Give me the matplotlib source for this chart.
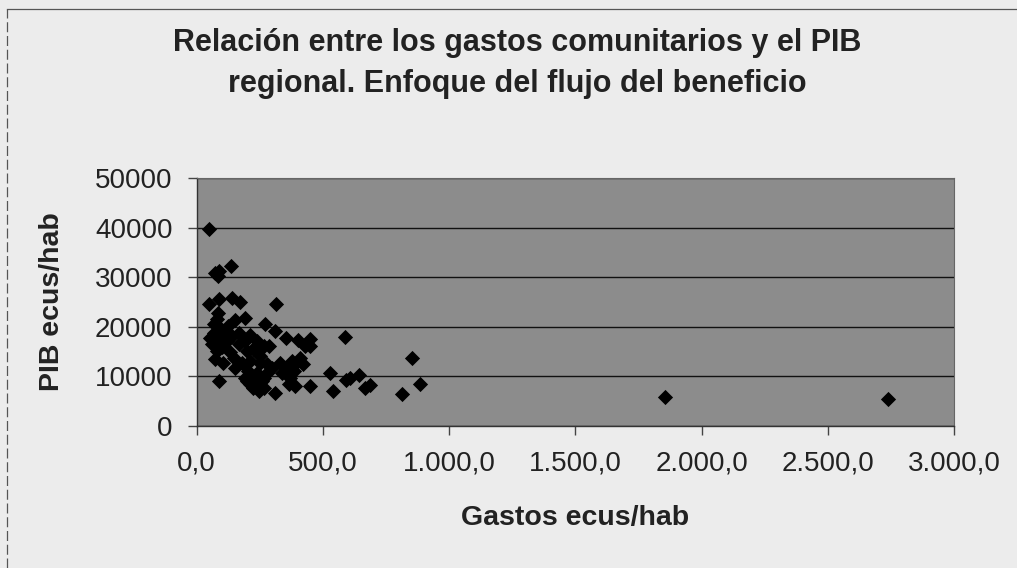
import matplotlib
matplotlib.use("Agg")
import matplotlib.pyplot as plt
from matplotlib.lines import Line2D
from matplotlib.ticker import FuncFormatter, MultipleLocator

plt.rcParams.update({
    "font.family": ["Liberation Sans", "DejaVu Sans"],
})

# ── data (gasto ecus/hab, PIB ecus/hab) ───────────────────────────────────────
gastos = [
    47, 73, 90, 86, 135, 47, 89, 139, 172, 314, 86,
    80, 153, 192, 269, 311, 67, 106, 166, 212, 355, 403, 450, 450, 430,
    60, 120, 166, 238, 285, 588, 80, 133, 199, 252, 74, 146, 212, 278,
    331, 377, 423, 357, 384, 298, 153, 238, 192, 219, 238, 258, 225, 245,
    265, 89, 364, 390, 309, 450, 529, 538, 591, 608, 641, 668, 688, 813,
    853, 883,
    67, 93, 126, 53, 93, 139, 192, 265, 100, 225, 106, 179, 252, 205,
    278, 212, 265, 199, 252, 371, 390, 337, 410,
    1857, 2740,
]
pib = [
    39800, 30900, 31200, 30200, 32200, 24500, 25600, 25800, 24900, 24500, 22800,
    21500, 21300, 21700, 20500, 19100, 18800, 19100, 18800, 18400, 17800, 17400, 17600, 16100, 16100,
    16400, 17100, 16400, 17100, 16100, 17900, 15100, 14800, 15100, 14100, 13400, 13700, 13100, 12400,
    12700, 13100, 12400, 11700, 11100, 11700, 11700, 10700, 9700, 9100, 8400, 9100, 7700, 7000,
    9700, 9100, 8400, 8000, 6700, 8000, 10700, 7000, 9200, 9700, 10300, 7600, 8200, 6400,
    13700, 8400,
    20500, 19800, 20100, 17800, 17800, 18100, 17100, 16100, 15800, 15400, 12700, 12700, 12700, 11100,
    10700, 8400, 7700, 9100, 9700, 9700, 12400, 10700, 13700,
    5800, 5400,
]

TITLE_1 = "Relación entre los gastos comunitarios y el PIB"
TITLE_2 = "regional. Enfoque del flujo del beneficio"
XLABEL = "Gastos ecus/hab"
YLABEL = "PIB ecus/hab"

BG = "#ececec"
PLOT_BG = "#8c8c8c"
INK = "#222222"


def es_fmt(v, _pos):
    # Spanish style: thousands with '.', one decimal with ','
    s = f"{v:,.1f}"
    return s.replace(",", "X").replace(".", ",").replace("X", ".")


fig = plt.figure(figsize=(10.17, 5.68), dpi=100, facecolor=BG)
ax = fig.add_axes([0.1934, 0.2505, 0.7447, 0.4361])
ax.set_facecolor(PLOT_BG)

ax.scatter(gastos, pib, marker="D", s=60, color="black", zorder=3, linewidths=0)

ax.set_xlim(0, 3000)
ax.set_ylim(0, 50000)
ax.xaxis.set_major_locator(MultipleLocator(500))
ax.yaxis.set_major_locator(MultipleLocator(10000))
ax.xaxis.set_major_formatter(FuncFormatter(es_fmt))
ax.yaxis.grid(True, color="#111111", linewidth=1.0)
ax.set_axisbelow(True)

for side in ("top", "right"):
    ax.spines[side].set_color("#666666")
    ax.spines[side].set_linewidth(0.8)
for side in ("left", "bottom"):
    ax.spines[side].set_color("#333333")
    ax.spines[side].set_linewidth(1.0)

ax.tick_params(axis="both", labelsize=20, color="#444444", labelcolor=INK,
               length=6.5, width=1.0)
ax.tick_params(axis="x", pad=11)
ax.tick_params(axis="y", pad=11)

ax.set_xlabel(XLABEL, fontsize=20.5, fontweight="bold", color=INK)
ax.xaxis.label.set_va("center")
ax.xaxis.set_label_coords(0.5, -0.372)
ax.set_ylabel(YLABEL, fontsize=20.5, fontweight="bold", color=INK)
ax.yaxis.label.set_va("center")
ax.yaxis.set_label_coords(-0.1905, 0.5)

fig.text(0.5088, 1 - 51 / 568, TITLE_1, ha="center", va="baseline",
         fontsize=22, fontweight="bold", color=INK)
fig.text(0.5088, 1 - 92 / 568, TITLE_2, ha="center", va="baseline",
         fontsize=22, fontweight="bold", color=INK)

# chart frame: only the top and left edges fall inside the picture
fig.add_artist(Line2D([7 / 1017, 1.0], [1 - 9 / 568] * 2, transform=fig.transFigure,
                      color="#555555", linewidth=0.9))
fig.add_artist(Line2D([7 / 1017] * 2, [0.0, 1 - 9 / 568], transform=fig.transFigure,
                      color="#555555", linewidth=0.9, linestyle=(0, (8, 3))))

fig.savefig("out.png", dpi=100, facecolor=BG)
